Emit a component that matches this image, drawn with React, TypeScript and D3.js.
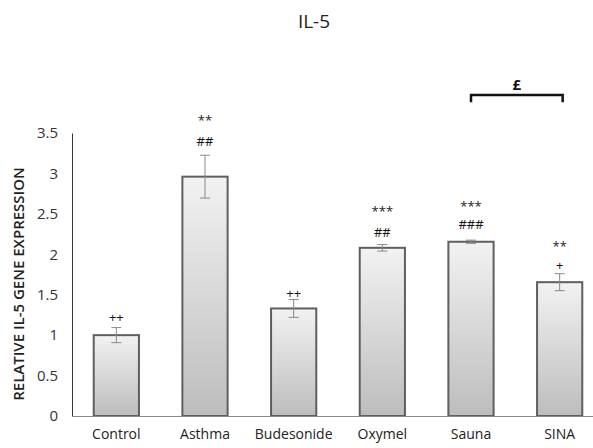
import React, { useEffect, useRef } from "react";
import * as d3 from "d3";

const groups = ["Control", "Asthma", "Budesonide", "Oxymel", "Sauna", "SINA"];
const expression = [1.0, 2.96, 1.33, 2.08, 2.155, 1.655];
const errors = [0.093, 0.265, 0.11, 0.04, 0.02, 0.105];
const starMarks = ["", "**", "", "***", "***", "**"];
const starLevels = [0, 3.7, 0, 2.57, 2.64, 2.14];
const hashMarks = ["++", "##", "++", "##", "###", "+"];
const hashLevels = [1.23, 3.4, 1.52, 2.28, 2.37, 1.87];
const yTicks = [0, 0.5, 1, 1.5, 2, 2.5, 3, 3.5];
const bracketPair = ["Sauna", "SINA"];
const bracketLabel = "£";

export default function App() {
  const ref = useRef<SVGSVGElement>(null);

  useEffect(() => {
    const svg = d3.select(ref.current);
    svg.selectAll("*").remove();

    const font = "'Open Sans', 'Noto Sans', sans-serif";
    const x = d3.scaleBand().domain(groups).range([72, 604]).paddingInner(0.49).paddingOuter(0.245);
    const y = d3.scaleLinear().domain([0, 3.5]).range([416, 133]);

    const defs = svg.append("defs");
    const grad = defs.append("linearGradient").attr("id", "barfill").attr("x1", 0).attr("y1", 0).attr("x2", 0).attr("y2", 1);
    grad.append("stop").attr("offset", "0%").attr("stop-color", "#f2f2f2");
    grad.append("stop").attr("offset", "100%").attr("stop-color", "#bdbdbd");

    // title
    svg.append("text")
      .attr("x", 314).attr("y", 28)
      .attr("text-anchor", "middle")
      .style("font-family", font).style("font-size", "19px").attr("fill", "#222")
      .text("IL-5");

    // y axis labels
    const yAxis = svg.append("g").attr("transform", "translate(72,0)")
      .call(d3.axisLeft(y).tickValues(yTicks).tickSize(0).tickPadding(14).tickFormat((d) => String(d)));
    yAxis.select(".domain").attr("stroke", "#333").attr("stroke-width", 1);
    yAxis.selectAll("text").style("font-family", font).style("font-size", "15px").attr("fill", "#333");

    svg.append("text")
      .attr("transform", "translate(24,284) rotate(-90)")
      .attr("text-anchor", "middle")
      .style("font-family", font).style("font-size", "15px").style("font-weight", 600).attr("fill", "#222")
      .text("RELATIVE IL-5 GENE EXPRESSION");

    // bars
    const bars = svg.append("g");
    groups.forEach((g, i) => {
      const bx = x(g) as number;
      const bw = x.bandwidth();
      const cx = bx + bw / 2;
      bars.append("rect")
        .attr("x", bx).attr("y", y(expression[i]))
        .attr("width", bw).attr("height", y(0) - y(expression[i]))
        .attr("fill", "url(#barfill)").attr("stroke", "#5f5f5f").attr("stroke-width", 2);

      const hi = y(expression[i] + errors[i]);
      const lo = y(expression[i] - errors[i]);
      const eb = bars.append("g").attr("stroke", "#888").attr("stroke-width", 1);
      eb.append("line").attr("x1", cx).attr("x2", cx).attr("y1", hi).attr("y2", lo);
      eb.append("line").attr("x1", cx - 5).attr("x2", cx + 5).attr("y1", hi).attr("y2", hi);
      eb.append("line").attr("x1", cx - 5).attr("x2", cx + 5).attr("y1", lo).attr("y2", lo);

      if (starMarks[i]) {
        bars.append("text")
          .attr("x", cx).attr("y", y(starLevels[i]) + 8)
          .attr("text-anchor", "middle")
          .style("font-family", font).style("font-size", "13px").attr("fill", "#222")
          .text(starMarks[i]);
      }
      bars.append("text")
        .attr("x", cx).attr("y", y(hashLevels[i]) + 5)
        .attr("text-anchor", "middle")
        .style("font-family", font).style("font-size", "13px").attr("fill", "#111")
        .text(hashMarks[i]);
    });

    // x axis
    const xAxis = svg.append("g").attr("transform", "translate(0,416)")
      .call(d3.axisBottom(x).tickSize(0).tickPadding(13));
    xAxis.select(".domain").attr("stroke", "#888").attr("stroke-width", 1);
    xAxis.selectAll("text").style("font-family", font).style("font-size", "14px").attr("fill", "#222");

    // bracket
    const b1 = (x(bracketPair[0]) as number) + x.bandwidth() / 2;
    const b2 = (x(bracketPair[1]) as number) + x.bandwidth() / 2 + 3;
    const by = y(3.97);
    const bd = y(3.88);
    svg.append("path")
      .attr("d", `M${b1},${bd}V${by}H${b2}V${bd}`)
      .attr("fill", "none").attr("stroke", "#111").attr("stroke-width", 2.5);
    svg.append("text")
      .attr("x", (b1 + b2) / 2).attr("y", 90)
      .attr("text-anchor", "middle")
      .style("font-family", font).style("font-size", "15px").style("font-weight", 700).attr("fill", "#111")
      .text(bracketLabel);
  }, []);

  return (
    <svg ref={ref} width={593} height={448} style={{ position: "absolute", left: 0, top: 0, background: "#fff" }} />
  );
}
